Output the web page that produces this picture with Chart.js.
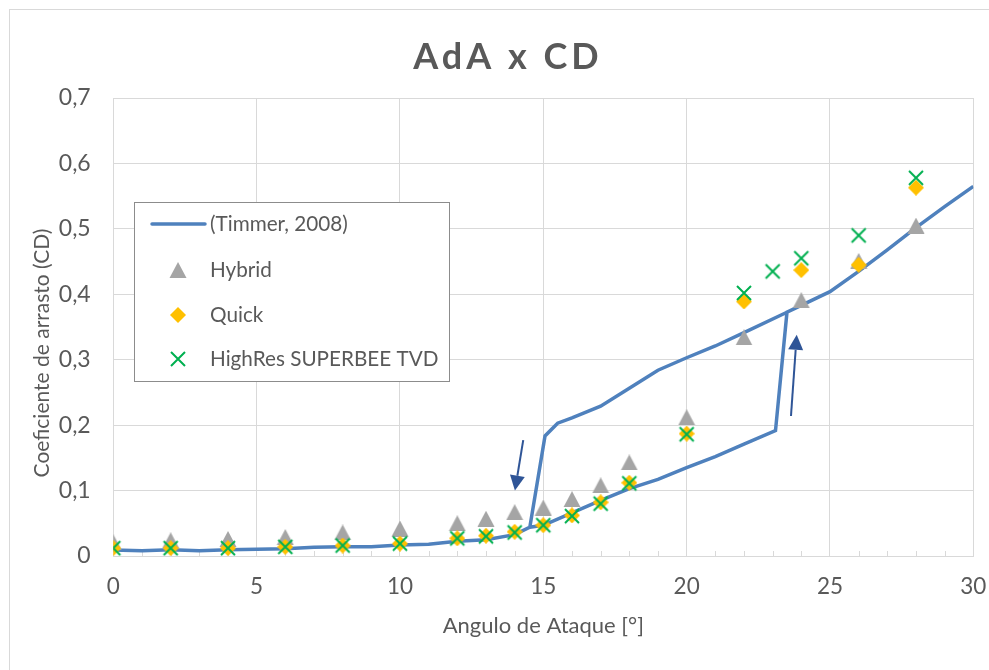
<!DOCTYPE html>
<html>
<head>
<meta charset="utf-8">
<script src="https://cdn.jsdelivr.net/npm/chart.js@4.4.0/dist/chart.umd.min.js"></script>
<style>
  html, body { margin: 0; padding: 0; background: #fff; overflow: hidden; }
  #frame { position: absolute; left: 9px; top: 9px; width: 1000px; height: 690px; border: 1px solid #d9d9d9; }
  canvas { display: block; }
</style>
</head>
<body>
<div id="frame"><canvas id="cd" width="1000" height="690"></canvas></div>
<script>
// Timmer (2008): lower branch up to the jump, then the upper branch (after the null) back down to the drop
const timmerAngle = [0, 1, 2, 3, 4, 5, 6, 7, 8, 9, 10, 11, 12, 13, 14, 14.53, 15, 16, 17, 18, 19, 20, 21, 22, 23.1, 23.5, 24, 25, 26, 27, 28, 29, 30,
  null,
  14.53, 15.06, 15.5, 16, 17, 18, 19, 20, 21, 22, 23.5];
const timmerCd = [0.009, 0.008, 0.0097, 0.008, 0.0097, 0.0102, 0.011, 0.0135, 0.014, 0.014, 0.0168, 0.018, 0.0225, 0.025, 0.0326, 0.044, 0.047, 0.066, 0.085, 0.103, 0.117, 0.135, 0.152, 0.171, 0.1917, 0.3726, 0.383, 0.404, 0.435, 0.468, 0.502, 0.534, 0.565,
  null,
  0.044, 0.1835, 0.203, 0.211, 0.229, 0.2565, 0.284, 0.303, 0.321, 0.3415, 0.3726];

const hybridAngle = [0, 2, 4, 6, 8, 10, 12, 13, 14, 15, 16, 17, 18, 20, 22, 24, 26, 28];
const hybridCd = [0.021, 0.024, 0.026, 0.029, 0.036, 0.042, 0.050, 0.057, 0.067, 0.074, 0.087, 0.108, 0.143, 0.212, 0.334, 0.391, 0.451, 0.505];

const quickAngle = [0, 2, 4, 6, 8, 10, 12, 13, 14, 15, 16, 17, 18, 20, 22, 24, 26, 28];
const quickCd = [0.012, 0.012, 0.012, 0.014, 0.016, 0.019, 0.027, 0.031, 0.037, 0.047, 0.062, 0.082, 0.112, 0.187, 0.389, 0.437, 0.445, 0.563];

const superbeeAngle = [0, 2, 4, 6, 8, 10, 12, 13, 14, 15, 16, 17, 18, 20, 22, 23, 24, 26, 28];
const superbeeCd = [0.012, 0.012, 0.012, 0.014, 0.016, 0.019, 0.027, 0.030, 0.036, 0.047, 0.061, 0.080, 0.111, 0.186, 0.402, 0.435, 0.455, 0.490, 0.578];

// hysteresis arrows: [angle, cd] tail -> head
const arrowTails = [[14.30, 0.177], [23.64, 0.214]];
const arrowHeads = [[14.01, 0.100], [23.84, 0.338]];

const TEXT = '#595959';
const GRID = '#d9d9d9';
const FONT = 'Lato, "Open Sans", sans-serif';

function toPoints(xs, ys) {
  return xs.map((x, i) => ({ x: x, y: ys[i] }));
}

function marker(w, h, draw) {
  const c = document.createElement('canvas');
  c.width = w;
  c.height = h;
  draw(c.getContext('2d'));
  return c;
}

const triangleMark = marker(18, 16, (ctx) => {
  ctx.fillStyle = '#a5a5a5';
  ctx.beginPath();
  ctx.moveTo(9, 0);
  ctx.lineTo(17.5, 16);
  ctx.lineTo(0.5, 16);
  ctx.closePath();
  ctx.fill();
});
const diamondMark = marker(16, 16, (ctx) => {
  ctx.fillStyle = '#ffc000';
  ctx.beginPath();
  ctx.moveTo(8, 0);
  ctx.lineTo(16, 8);
  ctx.lineTo(8, 16);
  ctx.lineTo(0, 8);
  ctx.closePath();
  ctx.fill();
});
const crossMark = marker(18, 18, (ctx) => {
  ctx.strokeStyle = '#00b050';
  ctx.lineWidth = 2;
  ctx.beginPath();
  ctx.moveTo(2, 2);
  ctx.lineTo(16, 16);
  ctx.moveTo(16, 2);
  ctx.lineTo(2, 16);
  ctx.stroke();
});

// title, rotated y title, minor ticks, arrows and the boxed legend
const decorations = {
  id: 'decorations',
  beforeDatasetsDraw(chart) {
    const { ctx, chartArea, scales } = chart;
    ctx.save();
    ctx.strokeStyle = GRID;
    ctx.lineWidth = 1;
    for (let v = 1; v < 30; v++) {
      if (v % 5 === 0) continue;
      const px = Math.round(scales.x.getPixelForValue(v)) + 0.5;
      ctx.beginPath();
      ctx.moveTo(px, chartArea.bottom);
      ctx.lineTo(px, chartArea.bottom - 5);
      ctx.stroke();
    }
    ctx.restore();
  },
  afterDraw(chart) {
    const { ctx, scales } = chart;
    ctx.save();

    ctx.fillStyle = TEXT;
    ctx.textAlign = 'center';
    ctx.textBaseline = 'middle';
    ctx.font = 'bold 36px ' + FONT;
    ctx.letterSpacing = '4px';
    ctx.fillText('AdA x CD', 498, 47);
    ctx.letterSpacing = '0px';

    ctx.font = '21px ' + FONT;
    ctx.translate(32, 343);
    ctx.rotate(-Math.PI / 2);
    ctx.fillText('Coeficiente de arrasto (CD)', 0, 0);
    ctx.setTransform(1, 0, 0, 1, 0, 0);

    ctx.strokeStyle = '#2f5597';
    ctx.fillStyle = '#2f5597';
    ctx.lineWidth = 2;
    arrowTails.forEach((t, i) => {
      const x0 = scales.x.getPixelForValue(t[0]);
      const y0 = scales.y.getPixelForValue(t[1]);
      const x1 = scales.x.getPixelForValue(arrowHeads[i][0]);
      const y1 = scales.y.getPixelForValue(arrowHeads[i][1]);
      const a = Math.atan2(y1 - y0, x1 - x0);
      const len = 15, half = 7.5;
      const bx = x1 - Math.cos(a) * len, by = y1 - Math.sin(a) * len;
      ctx.beginPath();
      ctx.moveTo(x0, y0);
      ctx.lineTo(bx, by);
      ctx.stroke();
      ctx.beginPath();
      ctx.moveTo(x1, y1);
      ctx.lineTo(bx + Math.sin(a) * half, by - Math.cos(a) * half);
      ctx.lineTo(bx - Math.sin(a) * half, by + Math.cos(a) * half);
      ctx.closePath();
      ctx.fill();
    });

    // legend box
    ctx.fillStyle = '#fff';
    ctx.fillRect(124, 192, 315, 179);
    ctx.strokeStyle = '#8c8c8c';
    ctx.lineWidth = 1;
    ctx.strokeRect(124.5, 192.5, 315, 179);
    const rows = [214, 260, 305, 349];
    chart.data.datasets.forEach((ds, i) => {
      const y = rows[i];
      if (ds.showLine) {
        ctx.strokeStyle = ds.borderColor;
        ctx.lineWidth = 3.5;
        ctx.lineCap = 'round';
        ctx.beginPath();
        ctx.moveTo(142, y);
        ctx.lineTo(195, y);
        ctx.stroke();
      } else {
        const m = ds.pointStyle;
        ctx.drawImage(m, 168 - m.width / 2, y - m.height / 2);
      }
      ctx.fillStyle = TEXT;
      ctx.font = '20.7px ' + FONT;
      ctx.textAlign = 'left';
      ctx.textBaseline = 'middle';
      ctx.fillText(ds.label, 200, y);
    });
    ctx.restore();
  }
};

new Chart(document.getElementById('cd'), {
  type: 'scatter',
  data: {
    datasets: [
      {
        label: '(Timmer, 2008)',
        data: toPoints(timmerAngle, timmerCd),
        showLine: true,
        borderColor: '#4f81bd',
        borderWidth: 3.5,
        pointRadius: 0,
        tension: 0,
        order: 4
      },
      {
        label: 'Hybrid',
        data: toPoints(hybridAngle, hybridCd),
        pointStyle: triangleMark,
        order: 3
      },
      {
        label: 'Quick',
        data: toPoints(quickAngle, quickCd),
        pointStyle: diamondMark,
        order: 2
      },
      {
        label: 'HighRes SUPERBEE TVD',
        data: toPoints(superbeeAngle, superbeeCd),
        pointStyle: crossMark,
        order: 1
      }
    ]
  },
  options: {
    responsive: false,
    animation: false,
    devicePixelRatio: 1,
    layout: { padding: { top: 88, right: 36.7, left: 0, bottom: 0 } },
    plugins: {
      legend: { display: false },
      tooltip: { enabled: false },
      title: { display: false }
    },
    scales: {
      x: {
        type: 'linear',
        min: 0,
        max: 30,
        afterFit: (scale) => { scale.height = 144; },
        ticks: { stepSize: 5, padding: 17, color: TEXT, font: { family: FONT, size: 22.5 } },
        grid: { color: GRID, drawTicks: false },
        border: { color: GRID },
        title: {
          display: true,
          text: 'Angulo de Ataque [°]',
          color: TEXT,
          font: { family: FONT, size: 22 },
          padding: { top: 0, bottom: 61 }
        }
      },
      y: {
        type: 'linear',
        min: 0,
        max: 0.7,
        afterFit: (scale) => { scale.width = 103.3; },
        ticks: {
          stepSize: 0.1,
          padding: 22.6,
          color: TEXT,
          font: { family: FONT, size: 23 },
          callback: (v) => (v === 0 ? '0' : v.toFixed(1).replace('.', ','))
        },
        grid: { color: GRID, drawTicks: false },
        border: { color: GRID }
      }
    }
  },
  plugins: [decorations]
});
</script>
</body>
</html>
